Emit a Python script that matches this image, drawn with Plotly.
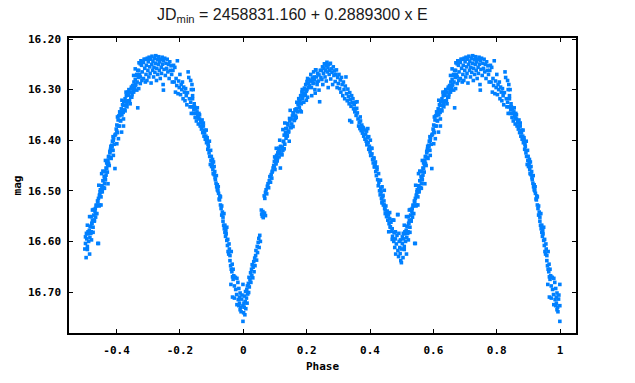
import plotly.graph_objects as go

# Light-curve data (phase 0..1)
phase = [
    # primary minimum egress
    0.001, 0.002, 0.003, 0.004, 0.005, 0.006, 0.007, 0.008, 0.010, 0.011, 0.012, 0.013, 0.014, 0.016, 0.017, 0.018, 0.019,
    0.021, 0.023, 0.024, 0.026, 0.027, 0.028, 0.030, 0.031, 0.033, 0.034, 0.036, 0.037, 0.039, 0.040, 0.042, 0.044, 0.045, 0.047, 0.049, 0.050, 0.052, 0.054,
    0.057, 0.058, 0.060, 0.062, 0.063, 0.065, 0.067, 0.070,
    0.066, 0.068, 0.070, 0.072, 0.074, 0.076, 0.078, 0.080, 0.082, 0.084, 0.086, 0.088, 0.090, 0.092, 0.094,
    0.096, 0.098, 0.100, 0.102, 0.103, 0.105, 0.107, 0.109, 0.111, 0.113, 0.115, 0.117, 0.119, 0.121, 0.123, 0.125,
    0.127, 0.129, 0.131, 0.133, 0.135, 0.137, 0.139, 0.141, 0.143, 0.145, 0.147, 0.149, 0.151, 0.153, 0.155, 0.157, 0.159, 0.161, 0.163, 0.165,
    0.167, 0.169, 0.171, 0.173, 0.175, 0.177, 0.179, 0.181, 0.183, 0.185, 0.187, 0.189, 0.191, 0.193, 0.195, 0.197, 0.199, 0.201, 0.203, 0.205, 0.207, 0.209,
    # first maximum
    0.211, 0.213, 0.215, 0.216, 0.218, 0.220, 0.222, 0.224, 0.226, 0.227, 0.229, 0.231, 0.233, 0.235, 0.237, 0.239, 0.241, 0.243, 0.245,
    0.246, 0.248, 0.250, 0.251, 0.253, 0.255, 0.256, 0.258, 0.259, 0.261, 0.262, 0.264, 0.265, 0.267, 0.268, 0.270,
    0.271, 0.273, 0.275, 0.276, 0.278, 0.280, 0.282, 0.284, 0.286, 0.288, 0.290, 0.292, 0.294, 0.296, 0.298, 0.300,
    0.302, 0.304, 0.306, 0.308, 0.310, 0.312, 0.314, 0.316, 0.318, 0.320, 0.322, 0.324, 0.326, 0.328, 0.330,
    0.332, 0.334, 0.336, 0.338, 0.340, 0.342, 0.344, 0.346, 0.348, 0.350, 0.352, 0.354, 0.356, 0.358, 0.360, 0.336, 0.342,
    0.362, 0.364, 0.366, 0.368, 0.370, 0.372, 0.374, 0.376, 0.378, 0.380, 0.382, 0.384, 0.386, 0.388, 0.390, 0.392, 0.394, 0.396, 0.398, 0.400, 0.402, 0.404, 0.406, 0.408,
    0.410, 0.412, 0.414, 0.416, 0.418, 0.420, 0.422, 0.424, 0.426, 0.428, 0.430, 0.432, 0.434, 0.436, 0.438, 0.440,
    0.442, 0.444, 0.446, 0.448, 0.450, 0.452, 0.454, 0.456, 0.458, 0.460, 0.462, 0.464, 0.466, 0.468, 0.470,
    # secondary minimum
    0.471, 0.473, 0.475, 0.476, 0.478, 0.480, 0.481, 0.483, 0.485, 0.487, 0.488, 0.490, 0.492, 0.494, 0.495, 0.497, 0.499,
    0.500, 0.502, 0.504, 0.506, 0.508, 0.510, 0.512, 0.514, 0.516, 0.518,
    0.520, 0.522, 0.524, 0.526, 0.528, 0.530, 0.532, 0.534, 0.536, 0.538, 0.540, 0.541, 0.543, 0.545, 0.547, 0.549, 0.551, 0.553, 0.555, 0.557, 0.559,
    0.561, 0.563, 0.565, 0.567, 0.569, 0.571, 0.573, 0.575, 0.577, 0.579, 0.581, 0.583, 0.585, 0.587, 0.589, 0.591, 0.593, 0.595, 0.597, 0.599,
    0.601, 0.603, 0.605, 0.607, 0.609, 0.611, 0.613, 0.615, 0.617, 0.619, 0.621, 0.623, 0.625, 0.627, 0.629, 0.631, 0.633, 0.635, 0.637, 0.639,
    0.641, 0.643, 0.645, 0.647, 0.649, 0.651, 0.653, 0.655, 0.657, 0.659, 0.661, 0.663, 0.665, 0.667, 0.669, 0.671, 0.673, 0.675, 0.677, 0.679, 0.681, 0.683, 0.685, 0.687, 0.689,
    # second maximum
    0.691, 0.693, 0.694, 0.696, 0.697, 0.699, 0.700, 0.702, 0.703, 0.705, 0.706, 0.708, 0.709,
    0.711, 0.712, 0.714, 0.715, 0.717, 0.718, 0.720, 0.721, 0.723, 0.724, 0.726, 0.727, 0.729,
    0.730, 0.732, 0.733, 0.735, 0.736, 0.738, 0.739, 0.741, 0.742, 0.744, 0.745, 0.747, 0.748,
    0.750, 0.752, 0.754, 0.756, 0.758, 0.760, 0.762, 0.764, 0.766, 0.768, 0.770, 0.772, 0.774, 0.776, 0.778,
    0.780, 0.782, 0.784, 0.786, 0.788, 0.790, 0.792, 0.794, 0.796, 0.798, 0.800, 0.802, 0.804, 0.806, 0.808, 0.810,
    0.812, 0.814, 0.816, 0.818, 0.820, 0.822, 0.824, 0.826, 0.828, 0.830, 0.748,
    0.832, 0.834, 0.836, 0.838, 0.840, 0.842, 0.844, 0.846, 0.848, 0.850, 0.852, 0.854, 0.856, 0.858, 0.860,
    0.862, 0.864, 0.866, 0.868, 0.870, 0.872, 0.874, 0.876, 0.878, 0.880, 0.834, 0.838, 0.842,
    0.882, 0.884, 0.886, 0.888, 0.890, 0.892, 0.894, 0.896, 0.898, 0.900, 0.902, 0.904, 0.906, 0.908, 0.910, 0.912,
    0.914, 0.916, 0.918, 0.920, 0.922, 0.924, 0.926, 0.928,
    0.930, 0.932, 0.934, 0.936, 0.938, 0.940, 0.942, 0.944, 0.946, 0.948, 0.950, 0.952, 0.954, 0.956, 0.958, 0.960,
    0.962, 0.964, 0.966, 0.968, 0.970,
    # primary minimum ingress
    0.961, 0.970, 0.975, 0.980, 0.983, 0.986, 0.990, 0.996, 0.999, 0.966, 0.972, 0.988, 0.995, 0.980, 0.986, 0.999,
    0.990, 0.993, 0.999,
    # extra scatter: rising branch after secondary minimum
    0.508, 0.515, 0.502, 0.505, 0.510, 0.515, 0.519, 0.526, 0.521, 0.543, 0.508, 0.515, 0.521, 0.530, 0.534, 0.527,
    0.536, 0.551, 0.541, 0.546, 0.551, 0.559, 0.544, 0.562, 0.573, 0.563, 0.567, 0.553, 0.557, 0.569, 0.575, 0.565,
    0.580, 0.590, 0.579, 0.586, 0.601, 0.590, 0.595, 0.606, 0.601, 0.616, 0.606, 0.622, 0.612, 0.622, 0.610, 0.620,
    0.627, 0.622, 0.633, 0.617, 0.632, 0.643, 0.648, 0.637, 0.630, 0.654, 0.664, 0.647, 0.659, 0.670, 0.654, 0.664,
    0.675, 0.659, 0.675, 0.685, 0.670, 0.680, 0.691, 0.667,
    # extra scatter: rising branch after primary minimum
    0.086, 0.091, 0.098, 0.103, 0.099, 0.108, 0.113, 0.122, 0.104, 0.112, 0.117, 0.129, 0.115, 0.127, 0.138, 0.134,
    0.143, 0.151, 0.125, 0.131, 0.140, 0.146, 0.161, 0.164, 0.157, 0.167, 0.148, 0.169, 0.180, 0.183, 0.173, 0.178,
    0.191, 0.199, 0.176, 0.191, 0.196, 0.186, 0.201, 0.206, 0.217, 0.222, 0.233, 0.203, 0.228, 0.239, 0.224,
    # extra scatter: descending branch and secondary minimum
    0.359, 0.354, 0.369, 0.375, 0.380, 0.389, 0.393, 0.396, 0.401, 0.406, 0.403, 0.412, 0.417, 0.414, 0.422, 0.427,
    0.433, 0.438, 0.435, 0.441, 0.445, 0.438, 0.445, 0.448, 0.454, 0.462, 0.470, 0.475, 0.488, 0.464, 0.459, 0.470,
    0.480, 0.491, 0.496, 0.512, 0.517, 0.522, 0.524, 0.533, 0.546, 0.548, 0.554, 0.562, 0.564, 0.572, 0.575, 0.585,
    0.582, 0.589, 0.603, 0.610,
    # extra scatter: descending branch into primary minimum
    0.836, 0.840, 0.845, 0.850, 0.855, 0.858, 0.862, 0.866, 0.870, 0.874, 0.878, 0.883, 0.886, 0.889, 0.893, 0.897,
    0.899, 0.903, 0.905, 0.908, 0.911, 0.915, 0.918, 0.921, 0.925, 0.928, 0.932, 0.936, 0.939, 0.942, 0.945, 0.948,
    0.951, 0.955, 0.958, 0.962, 0.965, 0.968, 0.972, 0.976, 0.979, 0.984, 0.988, 0.992,
]

mag = [
    16.741, 16.722, 16.730, 16.708, 16.745, 16.719, 16.699, 16.733, 16.712, 16.695, 16.722, 16.688, 16.704, 16.683, 16.701, 16.671, 16.690,
    16.676, 16.662, 16.681, 16.655, 16.668, 16.646, 16.672, 16.651, 16.640, 16.660, 16.633, 16.648, 16.628, 16.618, 16.637, 16.610, 16.622, 16.602, 16.594, 16.612, 16.588, 16.600,
    16.538, 16.546, 16.550, 16.541, 16.553, 16.547, 16.544, 16.549,
    16.510, 16.515, 16.503, 16.498, 16.506, 16.491, 16.486, 16.494, 16.480, 16.472, 16.483, 16.468, 16.475, 16.461, 16.455,
    16.450, 16.442, 16.458, 16.436, 16.447, 16.430, 16.441, 16.425, 16.418, 16.433, 16.420, 16.455, 16.412, 16.427, 16.415, 16.420,
    16.402, 16.390, 16.408, 16.385, 16.396, 16.377, 16.391, 16.370, 16.384, 16.402, 16.362, 16.375, 16.358, 16.368, 16.352, 16.373, 16.346, 16.360, 16.340, 16.352,
    16.338, 16.325, 16.344, 16.330, 16.318, 16.335, 16.322, 16.312, 16.328, 16.305, 16.318, 16.300, 16.312, 16.297, 16.308, 16.290, 16.303, 16.284, 16.315, 16.296, 16.280, 16.292,
    16.283, 16.270, 16.296, 16.312, 16.277, 16.288, 16.265, 16.280, 16.300, 16.307, 16.261, 16.275, 16.290, 16.268, 16.283, 16.301, 16.324, 16.262, 16.276,
    16.262, 16.280, 16.255, 16.290, 16.268, 16.258, 16.249, 16.275, 16.262, 16.252, 16.283, 16.246, 16.265, 16.257, 16.296, 16.250,
    16.270, 16.262, 16.248, 16.279, 16.259, 16.266, 16.290, 16.255, 16.272, 16.263, 16.284, 16.270, 16.261, 16.296, 16.276, 16.288,
    16.270, 16.298, 16.281, 16.305, 16.276, 16.290, 16.312, 16.285, 16.300, 16.318, 16.293, 16.275, 16.308, 16.322, 16.299,
    16.314, 16.328, 16.306, 16.320, 16.333, 16.312, 16.326, 16.318, 16.338, 16.330, 16.344, 16.325, 16.351, 16.337, 16.346, 16.361, 16.364,
    16.358, 16.372, 16.365, 16.377, 16.362, 16.381, 16.370, 16.386, 16.375, 16.392, 16.380, 16.398, 16.388, 16.402, 16.409, 16.395, 16.405, 16.418, 16.412, 16.423, 16.430, 16.416, 16.427, 16.438,
    16.445, 16.435, 16.452, 16.448, 16.462, 16.470, 16.458, 16.478, 16.490, 16.483, 16.500, 16.508, 16.495, 16.515, 16.522, 16.512,
    16.528, 16.520, 16.535, 16.545, 16.530, 16.551, 16.540, 16.558, 16.548, 16.565, 16.555, 16.572, 16.562, 16.580, 16.575,
    16.590, 16.558, 16.600, 16.583, 16.612, 16.595, 16.625, 16.605, 16.588, 16.547, 16.618, 16.630, 16.600, 16.612, 16.624, 16.638, 16.642,
    16.615, 16.604, 16.632, 16.595, 16.610, 16.585, 16.600, 16.578, 16.592, 16.570,
    16.581, 16.565, 16.558, 16.572, 16.548, 16.560, 16.540, 16.552, 16.528, 16.545, 16.520, 16.604, 16.515, 16.530, 16.508, 16.498, 16.512, 16.490, 16.502, 16.480, 16.494,
    16.472, 16.462, 16.478, 16.455, 16.445, 16.463, 16.440, 16.432, 16.450, 16.425, 16.418, 16.436, 16.410, 16.402, 16.420, 16.395, 16.408, 16.456, 16.388, 16.378,
    16.370, 16.385, 16.360, 16.352, 16.372, 16.345, 16.362, 16.338, 16.350, 16.330, 16.345, 16.324, 16.340, 16.318, 16.332, 16.312, 16.328, 16.305, 16.322, 16.300,
    16.322, 16.305, 16.315, 16.298, 16.310, 16.292, 16.303, 16.285, 16.298, 16.280, 16.290, 16.272, 16.285, 16.262, 16.276, 16.247, 16.270, 16.288, 16.243, 16.252, 16.265, 16.245, 16.278, 16.240, 16.258,
    16.240, 16.270, 16.252, 16.282, 16.238, 16.262, 16.245, 16.275, 16.236, 16.255, 16.268, 16.240, 16.287,
    16.250, 16.234, 16.262, 16.244, 16.275, 16.256, 16.238, 16.266, 16.248, 16.233, 16.282, 16.258, 16.241,
    16.270, 16.250, 16.235, 16.262, 16.245, 16.278, 16.240, 16.256, 16.268, 16.236, 16.250, 16.290, 16.243,
    16.260, 16.238, 16.272, 16.248, 16.258, 16.240, 16.265, 16.250, 16.278, 16.245, 16.262, 16.253, 16.270, 16.285, 16.262,
    16.252, 16.285, 16.256, 16.305, 16.278, 16.292, 16.243, 16.308, 16.283, 16.296, 16.270, 16.310, 16.290, 16.300, 16.285, 16.318,
    16.295, 16.305, 16.322, 16.298, 16.312, 16.330, 16.306, 16.265, 16.276, 16.318, 16.301,
    16.334, 16.325, 16.347, 16.334, 16.318, 16.347, 16.340, 16.334, 16.355, 16.347, 16.362, 16.344, 16.352, 16.368, 16.347,
    16.358, 16.372, 16.365, 16.378, 16.360, 16.385, 16.372, 16.392, 16.380, 16.398, 16.282, 16.290, 16.300,
    16.392, 16.405, 16.400, 16.418, 16.412, 16.425, 16.432, 16.448, 16.440, 16.452, 16.446, 16.458, 16.443, 16.468, 16.462, 16.478,
    16.485, 16.492, 16.488, 16.500, 16.505, 16.516, 16.510, 16.528,
    16.535, 16.548, 16.542, 16.560, 16.568, 16.575, 16.582, 16.590, 16.585, 16.598, 16.608, 16.620, 16.625, 16.615, 16.638, 16.648,
    16.655, 16.660, 16.670, 16.675, 16.668,
    16.685, 16.670, 16.671, 16.673, 16.681, 16.693, 16.702, 16.706, 16.685, 16.710, 16.712, 16.710, 16.714, 16.725, 16.727, 16.727,
    16.735, 16.739, 16.758,
    # extra scatter: rising branch after secondary minimum
    16.616, 16.625, 16.591, 16.584, 16.581, 16.583, 16.584, 16.582, 16.597, 16.604, 16.568, 16.551, 16.551, 16.558, 16.545, 16.537,
    16.530, 16.528, 16.522, 16.509, 16.502, 16.495, 16.489, 16.486, 16.486, 16.478, 16.469, 16.466, 16.461, 16.456, 16.446, 16.440,
    16.434, 16.430, 16.422, 16.413, 16.407, 16.400, 16.390, 16.397, 16.382, 16.384, 16.372, 16.372, 16.361, 16.358, 16.351, 16.344,
    16.342, 16.331, 16.334, 16.321, 16.324, 16.328, 16.315, 16.311, 16.305, 16.305, 16.301, 16.295, 16.292, 16.298, 16.272, 16.270,
    16.275, 16.259, 16.249, 16.246, 16.262, 16.282, 16.285, 16.336,
    # extra scatter: rising branch after primary minimum
    16.472, 16.463, 16.453, 16.445, 16.433, 16.436, 16.426, 16.429, 16.416, 16.416, 16.413, 16.417, 16.400, 16.403, 16.392, 16.377,
    16.382, 16.375, 16.379, 16.366, 16.367, 16.357, 16.361, 16.357, 16.346, 16.355, 16.341, 16.341, 16.342, 16.344, 16.326, 16.323,
    16.325, 16.321, 16.318, 16.307, 16.311, 16.300, 16.300, 16.288, 16.283, 16.287, 16.285, 16.278, 16.261, 16.271, 16.275,
    # extra scatter: descending branch and secondary minimum
    16.324, 16.338, 16.354, 16.374, 16.377, 16.382, 16.377, 16.393, 16.400, 16.416, 16.430, 16.436, 16.443, 16.453, 16.453, 16.466,
    16.479, 16.492, 16.502, 16.509, 16.499, 16.524, 16.528, 16.538, 16.545, 16.543, 16.558, 16.558, 16.547, 16.571, 16.581, 16.596,
    16.581, 16.584, 16.597, 16.583, 16.571, 16.564, 16.538, 16.535, 16.528, 16.502, 16.492, 16.495, 16.472, 16.449, 16.433, 16.420,
    16.412, 16.393, 16.354, 16.344,
    # extra scatter: descending branch into primary minimum
    16.300, 16.312, 16.328, 16.338, 16.336, 16.356, 16.350, 16.362, 16.372, 16.366, 16.385, 16.380, 16.395, 16.408, 16.402, 16.420,
    16.432, 16.438, 16.466, 16.452, 16.474, 16.470, 16.498, 16.492, 16.518, 16.512, 16.530, 16.552, 16.545, 16.568, 16.578, 16.572,
    16.596, 16.605, 16.628, 16.620, 16.645, 16.655, 16.688, 16.695, 16.705, 16.715, 16.722, 16.730,
]

x_tick_vals = [-0.4, -0.2, 0, 0.2, 0.4, 0.6, 0.8, 1]
x_tick_text = ["-0.4", "-0.2", "0", "0.2", "0.4", "0.6", "0.8", "1"]
y_tick_vals = [16.2, 16.3, 16.4, 16.5, 16.6, 16.7]
y_tick_text = ["16.20", "16.30", "16.40", "16.50", "16.60", "16.70"]

assert len(phase) == len(mag), (len(phase), len(mag))

# Phase diagram: the second half is repeated one cycle earlier
xs = list(phase) + [p - 1 for p in phase if p >= 0.5]
ys = list(mag) + [m for p, m in zip(phase, mag) if p >= 0.5]

tick_font = dict(family="DejaVu Sans Mono", size=11, color="black", weight="bold")

fig = go.Figure(go.Scatter(
    x=xs, y=ys, mode="markers",
    marker=dict(symbol="square", size=3.6, color="#0080ff", line=dict(width=0)),
    hoverinfo="skip",
))

axis_common = dict(
    showline=True, linecolor="black", linewidth=1.5, mirror="ticks",
    ticks="inside", ticklen=4, tickwidth=1, tickcolor="black",
    showgrid=False, zeroline=False, tickfont=tick_font,
)

fig.update_xaxes(
    range=[-0.55, 1.05], tickmode="array", tickvals=x_tick_vals, ticktext=x_tick_text,
    title=dict(text="Phase", font=tick_font, standoff=6), ticklabelstandoff=6,
    **axis_common,
)
fig.update_yaxes(
    range=[16.781, 16.198], tickmode="array", tickvals=y_tick_vals, ticktext=y_tick_text,
    title=dict(text="mag", font=tick_font, standoff=4), ticklabelstandoff=4,
    **axis_common,
)

fig.update_layout(
    width=635, height=383,
    margin=dict(l=69, r=59, t=38, b=50, autoexpand=False),
    paper_bgcolor="white", plot_bgcolor="white",
    showlegend=False,
    title=dict(
        text="JD<sub>min</sub> = 2458831.160 + 0.2889300 x E",
        font=dict(family="Liberation Sans, Arial", size=16, color="#1a1a1a"),
        xref="container", yref="container", x=157 / 635, xanchor="left",
        y=1 - 14 / 383, yanchor="middle",
    ),
)

fig.write_html(
    "out.html",
    config={"displayModeBar": False},
    post_script="document.body.style.margin='0';document.body.style.overflow='hidden';",
)
